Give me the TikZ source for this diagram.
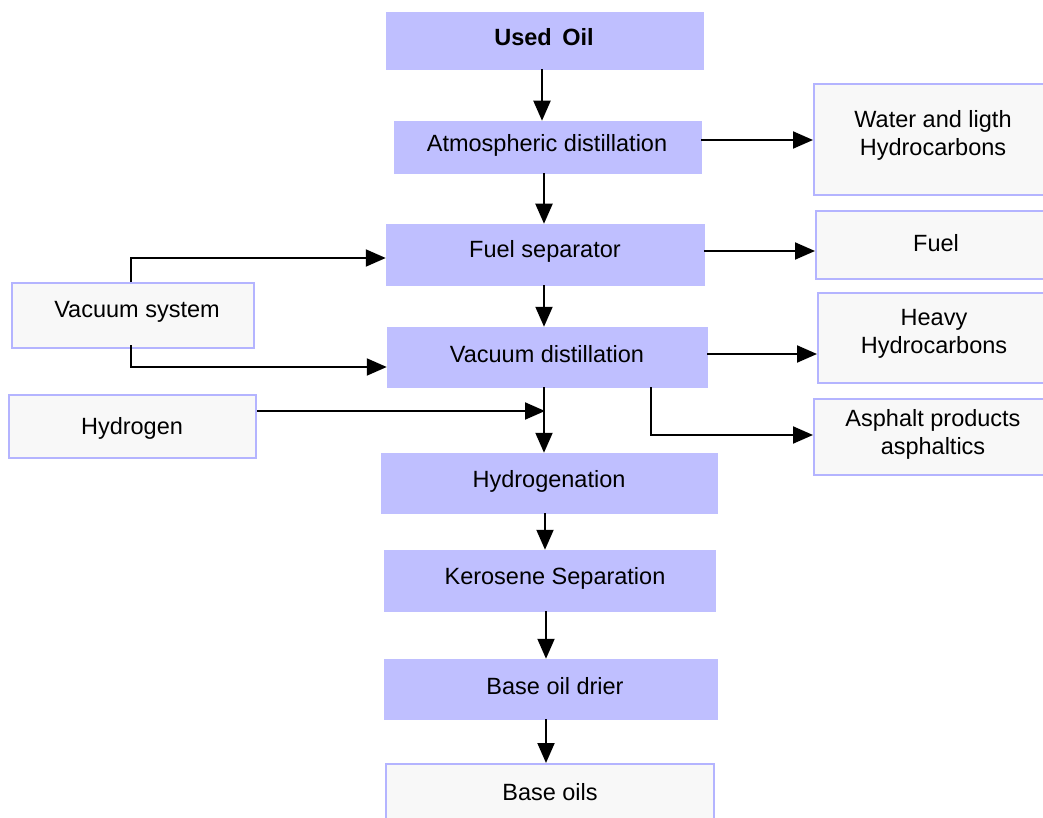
\documentclass[tikz,border=0pt]{standalone}
\usepackage{fontspec}
\setmainfont{Liberation Sans}
\usetikzlibrary{arrows.meta,calc}
\definecolor{procfill}{RGB}{191,191,255}
\definecolor{sidefill}{RGB}{248,248,248}
\definecolor{sideline}{RGB}{180,180,255}
\begin{document}
\begin{tikzpicture}[x=1pt,y=-1pt,
  every node/.style={font=\fontsize{23.5}{28}\selectfont, align=center, inner sep=0pt},
  proc/.style={rectangle, fill=procfill, draw=procfill, line width=0.5pt},
  side/.style={rectangle, fill=sidefill, draw=sideline, line width=2pt},
  flow/.style={line width=2pt, -{Triangle[length=20pt,width=17pt]}}]
\useasboundingbox (0,0) rectangle (1043,818);

% main process chain: boxes, then their captions
\node[proc, minimum width=317, minimum height=57] (uo)  at (544.5,40.5) {};
\node[proc, minimum width=307, minimum height=52] (atm) at (547.5,147) {};
\node[proc, minimum width=318, minimum height=61] (fs)  at (545,254.5) {};
\node[proc, minimum width=320, minimum height=60] (vd)  at (547,357) {};
\node[proc, minimum width=336, minimum height=60] (hyd) at (549,483) {};
\node[proc, minimum width=331, minimum height=61] (ker) at (549.5,580.5) {};
\node[proc, minimum width=333, minimum height=60] (dr)  at (550.5,689) {};
\node[side, minimum width=328, minimum height=66] (bo)  at (550,797) {};

\node (uot)  at (544,37)  {\textbf{Used\, Oil}};
\node (atmt) at (547,145) {Atmospheric distillation};
\node (fst)  at (545,251) {Fuel separator};
\node (vdt)  at (547,354) {Vacuum distillation};
\node (hydt) at (549,481) {Hydrogenation};
\node (kert) at (555,578) {Kerosene Separation};
\node (drt)  at (555,686) {Base oil drier};
\node (bot)  at (550,792) {Base oils};

% products on the right
\node[side, minimum width=236, minimum height=111] (wat) at (932,139.5) {};
\node at (933,135) (watt) {Water and ligth\\Hydrocarbons};
\node[side, minimum width=234, minimum height=68] (fuel) at (933,245) {};
\node at (936,243) (fuelt) {Fuel};
\node[side, minimum width=232, minimum height=90] (heavy) at (934,338) {};
\node at (934,334) (heavyt) {Heavy\\Hydrocarbons};
\node[side, minimum width=236, minimum height=76] (asph) at (932,437) {};
\node at (933,434) (aspht) {Asphalt products\\asphaltics};

% inputs on the left
\node[side, minimum width=242, minimum height=65] (vs) at (133,315.5) {};
\node at (137,312) (vst) {Vacuum system};
\node[side, minimum width=247, minimum height=63] (hg) at (132.5,426.5) {};
\node at (132,428) (hgt) {Hydrogen};

% spine
\draw[flow] (uo.south -| 542,0) -- (atm.north -| 542,0);
\draw[flow] (atm.south -| 544,0) -- (fs.north -| 544,0);
\draw[flow] (fs.south -| 544,0) -- (vd.north -| 544,0);
\draw[flow] (vd.south -| 544,0) -- (hyd.north -| 544,0);
\draw[flow] (hyd.south -| 545,0) -- (ker.north -| 545,0);
\draw[flow] (ker.south -| 546,0) -- (dr.north -| 546,0);
\draw[flow] (dr.south -| 546,0) -- (bo.north -| 546,0);

% side outputs
\draw[flow] (atm.east |- 0,140) -- (wat.west |- 0,140);
\draw[flow] (fs.east |- 0,251) -- (fuel.west |- 0,251);
\draw[flow] (vd.east |- 0,354) -- (heavy.west |- 0,354);
\draw[flow] (vd.south -| 651,0) -- (651,435) -- (asph.west |- 0,435);

% side inputs
\draw[flow] (vs.north -| 131,0) -- (131,258) -- (fs.west |- 0,258);
\draw[flow] (131,345) -- (131,367) -- (vd.west |- 0,367);
\draw[flow] (hg.east |- 0,411) -- (545,411);
\end{tikzpicture}
\end{document}
